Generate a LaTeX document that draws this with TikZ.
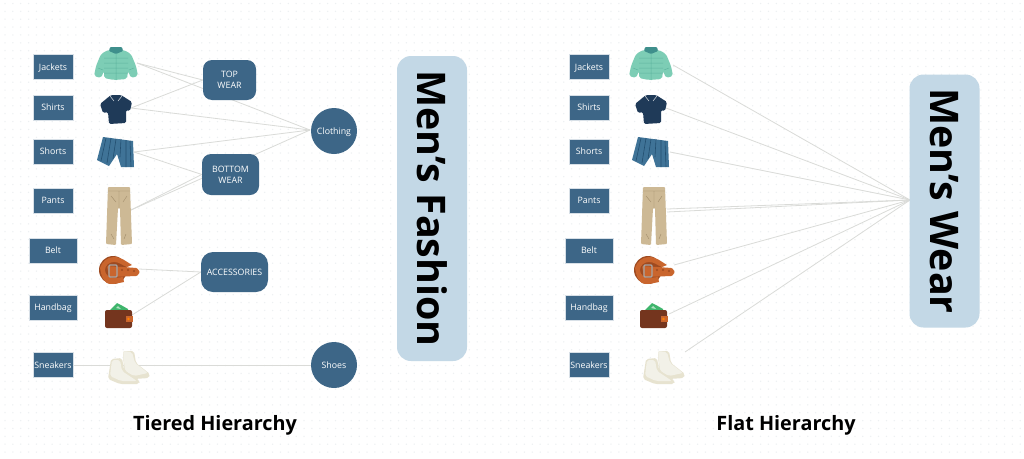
\documentclass[tikz,border=0pt]{standalone}
\usepackage{fontspec}
\setmainfont{Open Sans}
\usepackage{tikz}
\usetikzlibrary{backgrounds}
\definecolor{boxblue}{HTML}{3D6687}
\definecolor{rootblue}{HTML}{C3D8E6}
\definecolor{linkgrey}{HTML}{DADBD8}
\definecolor{dotgrey}{HTML}{EDF0F2}
\definecolor{jacketc}{HTML}{7DCDB5}
\definecolor{jacketd}{HTML}{5FB5A0}
\definecolor{hoodc}{HTML}{3F8F8C}
\definecolor{shirtc}{HTML}{1F3A58}
\definecolor{shortc}{HTML}{3F7397}
\definecolor{shortd}{HTML}{234F70}
\definecolor{pantc}{HTML}{CDB995}
\definecolor{pantd}{HTML}{A08C6A}
\definecolor{beltc}{HTML}{C9652D}
\definecolor{beltd}{HTML}{9E4A20}
\definecolor{walletc}{HTML}{74351E}
\definecolor{walletg}{HTML}{3FB56C}
\definecolor{shoec}{HTML}{F2F1E8}
\definecolor{shoed}{HTML}{E7E3D0}
\tikzset{
  catbox/.style={shape=rectangle, fill=boxblue, draw=white!80!boxblue, line width=0.4pt, text=white, font=\fontsize{8.8}{10}\selectfont, inner sep=0pt, minimum height=25pt, text height=6.5pt, text depth=0pt},
  groupbox/.style={shape=rectangle, rounded corners=9pt, fill=boxblue, text=white, align=center, font=\fontsize{8.8}{11}\selectfont, inner sep=0pt, minimum height=40pt},
  parentdot/.style={shape=circle, fill=boxblue, text=white, font=\fontsize{8.8}{10}\selectfont, inner sep=0pt, minimum size=46pt, text height=6.5pt, text depth=0pt},
  rootbox/.style={shape=rectangle, rounded corners=14pt, fill=rootblue, inner sep=0pt, minimum width=70pt},
  roottext/.style={rotate=-90, font=\fontsize{39.4}{44}\bfseries\selectfont, inner sep=0pt},
  caption/.style={font=\fontsize{19.8}{22}\bfseries\selectfont, inner sep=0pt},
  link/.style={draw=linkgrey, line width=0.8pt},
  dotrow/.style={draw=dotgrey, line width=1.5pt, line cap=round, dash pattern=on 0pt off 7.87pt},
  jacket/.pic={
    \fill[jacketc, rounded corners=2pt] (-8,-13) -- (-15,-9) -- (-20,3) -- (-22,13) -- (-15,15) -- (-12,8) -- (-12,15) -- (-2,17) -- (11,16) -- (12,8) -- (15,15) -- (22,13) -- (20,3) -- (15,-9) -- (8,-13) -- cycle;
    \fill[hoodc, rounded corners=1pt] (-6,-16) -- (6,-16) -- (7,-12) -- (0,-9) -- (-7,-12) -- cycle;
    \draw[jacketd, line width=0.5pt] (0,-9) -- (0,17) (-12,-5) -- (12,-5) (-12,0) -- (12,0) (-12,5) -- (12,5) (-12,10) -- (12,10) (-18,5) -- (-13,7) (18,5) -- (13,7);
  },
  shirt/.pic={
    \fill[shirtc, rounded corners=1.5pt] (-5,-14) -- (5,-14) -- (16,-7) -- (14,2) -- (10,1) -- (10,14) -- (-7,15) -- (-8,3) -- (-13,4) -- (-16,-5) -- cycle;
    \draw[white!70!shirtc, line width=0.6pt] (-6,-13) -- (-2,-8) (6,-13) -- (2,-8);
  },
  shorts/.pic={
    \fill[shortc] (-13,-15) -- (17,-11) -- (18,15) -- (5,15) -- (1,2) -- (-7,14) -- (-19,8) -- cycle;
    \draw[shortd, line width=0.6pt] (-10,-14) -- (-15,9) (-5,-14) -- (-9,11) (0,-13) -- (-3,7) (5,-13) -- (4,5) (10,-12) -- (10,15) (14,-11) -- (15,15);
  },
  pants/.pic={
    \fill[pantc, rounded corners=1pt] (-11,-29) -- (11,-29) -- (13,28) -- (2,29) -- (1,-8) -- (-1,-8) -- (-3,29) -- (-13,28) -- cycle;
    \draw[pantd, line width=0.4pt] (-11,-25) -- (11,-25) (0,-25) -- (0,-8) (-8,-20) -- (-3,-14) (8,-20) -- (4,-14) (-8,18) -- (-5,23) (7,18) -- (5,23);
  },
  belt/.pic={
    \fill[beltd] (-6,0) ellipse (14 and 14);
    \fill[beltc] (-19,-2) to[out=70,in=180] (-5,-13) to[out=0,in=150] (13,-5) -- (8,-3) to[out=160,in=0] (-5,-8) to[out=180,in=90] (-14,0) to[out=-90,in=180] (-5,8) -- (4,7) -- (5,12) to[out=190,in=0] (-8,14) to[out=180,in=-80] cycle;
    \fill[beltc, rounded corners=1pt] (-12,-4) -- (18,-2) -- (21,2) -- (18,6) -- (-10,7) -- cycle;
    \draw[black!35, line width=1.2pt, rounded corners=1pt] (-10,-5) rectangle (-2,7);
    \fill[beltd] (3,0) circle (1.2) (9,0) circle (1.2) (15,1) circle (1.2);
  },
  wallet/.pic={
    \fill[walletg] (-9,-6) -- (-2,-13) -- (2,-11) -- (9,-7) -- (9,-4) -- cycle;
    \fill[white!60!walletg] (-3,-8) -- (-1,-10) -- (2,-7) -- cycle;
    \fill[walletc, rounded corners=2pt] (-14,-6) rectangle (13,12);
    \fill[beltc] (7,0) rectangle (14,6);
    \fill[orange] (9.5,3) circle (1.3);
  },
  sneakers/.pic={
    \fill[shoed, rounded corners=2pt] (-5,-15) -- (6,-15) -- (8,-3) -- (22,8) -- (21,12) -- (6,13) -- (-4,6) -- cycle;
    \fill[shoec, rounded corners=2pt] (-5,-15) -- (4,-14) -- (7,-3) -- (20,7) -- (6,10) -- (-3,5) -- cycle;
    \fill[shoed, rounded corners=2pt] (-17,-7) -- (-6,-8) -- (-4,4) -- (12,15) -- (11,18) -- (-8,18) -- (-20,13) -- cycle;
    \fill[shoec, rounded corners=2pt] (-16,-6) -- (-8,-6) -- (-6,5) -- (9,15) -- (-7,15) -- (-18,10) -- cycle;
  },
}
\begin{document}
\begin{tikzpicture}[x=1pt, y=-1pt]
\useasboundingbox (0,0) rectangle (1024,458);
% left hierarchy
\node (topwear) [groupbox, minimum width=53pt] at (229.5,80) {TOP\\WEAR};
\node (bottomwear) [groupbox, minimum width=57pt, minimum height=41pt] at (230.5,174.5) {BOTTOM\\WEAR};
\node (accessories) [groupbox, minimum width=67pt, rounded corners=12pt] at (234.5,272) {ACCESSORIES};
\node (clothing) [parentdot] at (334,131) {Clothing};
\node (shoes) [parentdot] at (334,365) {Shoes};
\node (jackets) [catbox, minimum width=40pt] at (53,67) {Jackets};
\node (shirts) [catbox, minimum width=40pt] at (53,107.5) {Shirts};
\node (shorts) [catbox, minimum width=40pt] at (53,151.5) {Shorts};
\node (pants) [catbox, minimum width=40pt] at (53,200.5) {Pants};
\node (belts) [catbox, minimum width=48pt] at (53,250.5) {Belt};
\node (handbag) [catbox, minimum width=48pt] at (53,307.5) {Handbag};
\node (sneakers) [catbox, minimum width=40pt] at (53,365) {Sneakers};
\node (fashion) [rootbox, minimum height=305pt] at (432,208.5) {};
\node (fashiontext) [roottext] at (fashion) {Men’s Fashion};
% right hierarchy
\node (jacketsb) [catbox, minimum width=40pt] at (589,67) {Jackets};
\node (shirtsb) [catbox, minimum width=40pt] at (589,107.5) {Shirts};
\node (shortsb) [catbox, minimum width=40pt] at (589,151.5) {Shorts};
\node (pantsb) [catbox, minimum width=40pt] at (589,200.5) {Pants};
\node (beltsb) [catbox, minimum width=48pt] at (589,250.5) {Belt};
\node (handbagb) [catbox, minimum width=48pt] at (589,307.5) {Handbag};
\node (sneakersb) [catbox, minimum width=40pt] at (589,365) {Sneakers};
\node (wear) [rootbox, minimum height=253pt] at (944.5,201) {};
\node (weartext) [roottext] at (wear) {Men’s Wear};
% free ends at the clothes, left side
\coordinate (jacketend) at (137,63);
\coordinate (shirtend) at (131,108);
\coordinate (shortend) at (134,152);
\coordinate (pantend) at (131,210);
\coordinate (beltend) at (139,269);
\coordinate (walletend) at (132,315);
\coordinate (clothinghub) at (310,130);
% free ends at the clothes, right side
\coordinate (jacketflat) at (673,65);
\coordinate (shirtflat) at (666,108);
\coordinate (shortflat) at (670,152);
\coordinate (pantflat) at (667,212);
\coordinate (pantflatb) at (667,209);
\coordinate (beltflat) at (674,265);
\coordinate (walletflat) at (669,314);
\coordinate (sneakerflat) at (685,352);
\coordinate (hubflat) at (910,200);
\begin{scope}[on background layer]
\fill[white] (0,0) rectangle (1024,458);
% dots
\foreach \j in {0,...,57} {
  \draw[dotrow] (5,{3.5+7.87*\j}) -- (1024,{3.5+7.87*\j});
}
% links, the long ones run behind the group boxes
\draw[link] (jacketend) -- (topwear.west);
\draw[link] (shirtend) -- (topwear.west);
\foreach \a in {jacketend,shirtend,shortend,pantend} {
  \draw[link] (\a) -- (clothinghub);
}
\draw[link] (shortend) -- (bottomwear.west);
\draw[link] (pantend) -- (bottomwear.west);
\draw[link] (beltend) -- (accessories.west);
\draw[link] (walletend) -- (accessories.west);
\draw[link] (sneakers) -- (shoes);
\foreach \a in {jacketflat,shirtflat,shortflat,pantflat,pantflatb,beltflat,walletflat,sneakerflat} {
  \draw[link] (\a) -- (hubflat);
}
\end{scope}
% clothes
\foreach \dx in {0,535} {
  \pic at ({116+\dx},63) {jacket};
  \pic at ({116+\dx},109) {shirt};
  \pic at ({116+\dx},152) {shorts};
  \pic at ({119+\dx},216) {pants};
  \pic at ({119+\dx},270) {belt};
  \pic at ({119+\dx},316) {wallet};
  \pic at ({128+\dx},366) {sneakers};
}
\node (tiered) [caption] at (215,425) {Tiered Hierarchy};
\node (flat) [caption] at (786,425) {Flat Hierarchy};
\end{tikzpicture}
\end{document}
